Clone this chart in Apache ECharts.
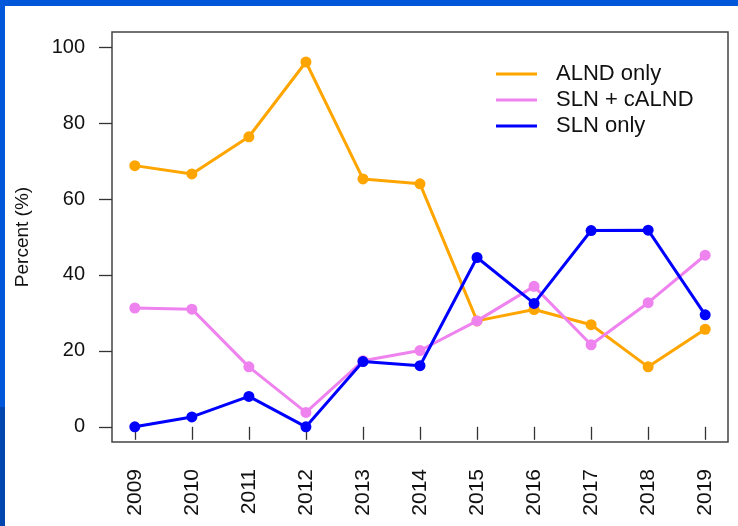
<!DOCTYPE html>
<html>
<head>
<meta charset="utf-8">
<script src="https://cdn.jsdelivr.net/npm/echarts@6/dist/echarts.min.js"></script>
<style>
  html, body { margin: 0; padding: 0; background: #fff; }
  #chart { width: 738px; height: 526px; }
</style>
</head>
<body>
<div id="chart"></div>
<script>
// Axillary surgery approach by year, percent of patients
const years = [2009, 2010, 2011, 2012, 2013, 2014, 2015, 2016, 2017, 2018, 2019];
const alndOnly = [68.8, 66.6, 76.4, 96.1, 65.3, 64.0, 27.9, 30.9, 26.9, 15.8, 25.7];
const slnCalnd = [31.3, 31.0, 15.8, 3.8, 17.4, 20.1, 27.9, 37.0, 21.6, 32.7, 45.2];
const slnOnly = [0.0, 2.6, 8.0, 0.0, 17.2, 16.1, 44.6, 32.5, 51.7, 51.8, 29.5];
const yTicks = [0, 20, 40, 60, 80, 100];

const seriesNames = ['ALND only', 'SLN + cALND', 'SLN only'];
const seriesColors = ['#FFA500', '#EE82EE', '#0000FF'];
const seriesValues = [alndOnly, slnCalnd, slnOnly];

const FONT = '"Liberation Sans", Arial, sans-serif';
const chart = echarts.init(document.getElementById('chart'), null, { renderer: 'canvas' });

chart.setOption({
  animation: false,
  backgroundColor: '#ffffff',
  graphic: [
    { type: 'rect', shape: { x: 0, y: 0, width: 738, height: 6 }, style: { fill: '#0057D9' }, z: 100 },
    { type: 'rect', shape: { x: 0, y: 0, width: 5, height: 407 }, style: { fill: '#0057D9' }, z: 100 },
    { type: 'rect', shape: { x: 0, y: 407, width: 5, height: 119 }, style: { fill: '#0046AE' }, z: 100 }
  ],
  grid: {
    left: 112, right: 10, top: 32, bottom: 84,
    show: true, borderColor: '#444', borderWidth: 1.5, backgroundColor: 'transparent'
  },
  legend: {
    orient: 'vertical',
    left: 496, top: 63,
    padding: 0,
    itemWidth: 41, itemHeight: 3,
    itemGap: 4,
    icon: 'rect',
    data: seriesNames.map((n, i) => ({ name: n, icon: 'rect', itemStyle: { color: seriesColors[i] } })),
    textStyle: { fontFamily: FONT, fontSize: 22, color: '#111', lineHeight: 22, padding: [0, 0, 0, 14] }
  },
  xAxis: {
    type: 'value',
    min: 2008.6, max: 2019.4,
    splitLine: { show: false },
    axisLine: { show: false },
    axisTick: { show: true, customValues: years, length: 13, lineStyle: { color: '#333', width: 1.3 } },
    axisLabel: {
      customValues: years, rotate: 90, margin: 27,
      fontFamily: FONT, fontSize: 21, color: '#111',
      formatter: v => String(v)
    }
  },
  yAxis: {
    type: 'value',
    min: -4, max: 104,
    name: 'Percent (%)',
    nameLocation: 'middle',
    nameGap: 80,
    nameRotate: 90,
    nameTextStyle: { fontFamily: FONT, fontSize: 19, color: '#111' },
    splitLine: { show: false },
    axisLine: { show: false },
    axisTick: { show: true, customValues: yTicks, length: 13, lineStyle: { color: '#333', width: 1.3 } },
    axisLabel: { customValues: yTicks, margin: 27, fontFamily: FONT, fontSize: 20, color: '#111' }
  },
  series: seriesNames.map((n, i) => ({
    name: n,
    type: 'line',
    data: years.map((y, j) => [y, seriesValues[i][j]]),
    symbol: 'circle',
    symbolSize: 11,
    lineStyle: { color: seriesColors[i], width: 3 },
    itemStyle: { color: seriesColors[i] },
    z: 2 + i
  }))
});
</script>
</body>
</html>
